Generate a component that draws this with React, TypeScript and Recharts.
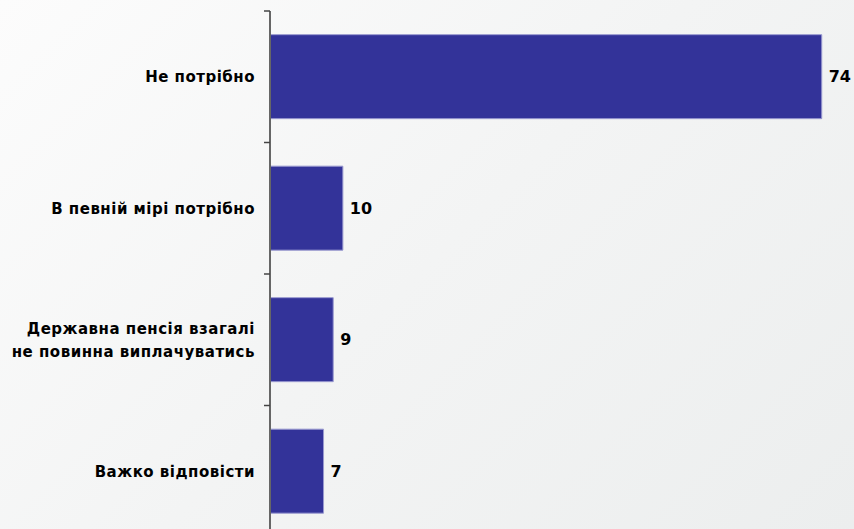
import { BarChart, Bar, XAxis, YAxis, LabelList } from 'recharts'

const categories = [
  'Не потрібно',
  'В певній мірі потрібно',
  'Державна пенсія взагалі\nне повинна виплачуватись',
  'Важко відповісти',
]
const values = [74.2, 9.8, 8.5, 7.2]
const valueLabels = ['74', '10', '9', '7']

const data = categories.map((name, i) => ({ name, value: values[i], label: valueLabels[i] }))

const FONT = '"DejaVu Sans", Verdana, sans-serif'
const TICK_SIZE = 6
const TICK_MARGIN = 9

function CategoryTick(props: any) {
  const { x, y, payload, index } = props
  const lines = String(payload.value).split('\n')
  const lineH = 23
  const start = -((lines.length - 1) * lineH) / 2
  const half = payload.offset || 0
  const axisX = x + TICK_SIZE + TICK_MARGIN
  // tick marks sit on the band edges, not at the category centres
  const edges = index === categories.length - 1 ? [y - half, y + half] : [y - half]
  return (
    <g>
      {half > 0 &&
        edges.map((ey, i) => (
          <line key={i} x1={axisX - TICK_SIZE} x2={axisX} y1={ey} y2={ey} stroke="#444" strokeWidth={1.5} />
        ))}
      <text
        x={x}
        y={y}
        textAnchor="end"
        fontFamily={FONT}
        fontWeight="bold"
        fontSize={15}
        fill="#000"
        letterSpacing={0.5}
      >
        {lines.map((l, i) => (
          <tspan key={i} x={x} y={y + start + i * lineH} dy="0.36em">
            {l}
          </tspan>
        ))}
      </text>
    </g>
  )
}

export default function App() {
  return (
    <div
      style={{
        position: 'absolute',
        left: 0,
        top: 0,
        width: 854,
        height: 529,
        overflow: 'hidden',
        background: 'linear-gradient(135deg, #fcfcfc 0%, #f3f4f4 50%, #eceeee 100%)',
      }}
    >
      <BarChart
        width={854}
        height={540}
        data={data}
        layout="vertical"
        margin={{ top: 11, right: 4, bottom: 3, left: 0 }}
        barCategoryGap="18%"
      >
        <XAxis type="number" domain={[0, 78]} hide />
        <YAxis
          type="category"
          dataKey="name"
          width={270}
          axisLine={{ stroke: '#666', strokeWidth: 2 }}
          tickLine={false}
          tickSize={TICK_SIZE}
          tickMargin={TICK_MARGIN}
          tick={<CategoryTick />}
          interval={0}
        />
        <Bar dataKey="value" fill="#333399" stroke="#9a9ad0" strokeWidth={1} isAnimationActive={false}>
          <LabelList
            dataKey="label"
            position="right"
            offset={7}
            fontFamily={FONT}
            fontWeight="bold"
            fontSize={16}
            fill="#000"
          />
        </Bar>
      </BarChart>
    </div>
  )
}
